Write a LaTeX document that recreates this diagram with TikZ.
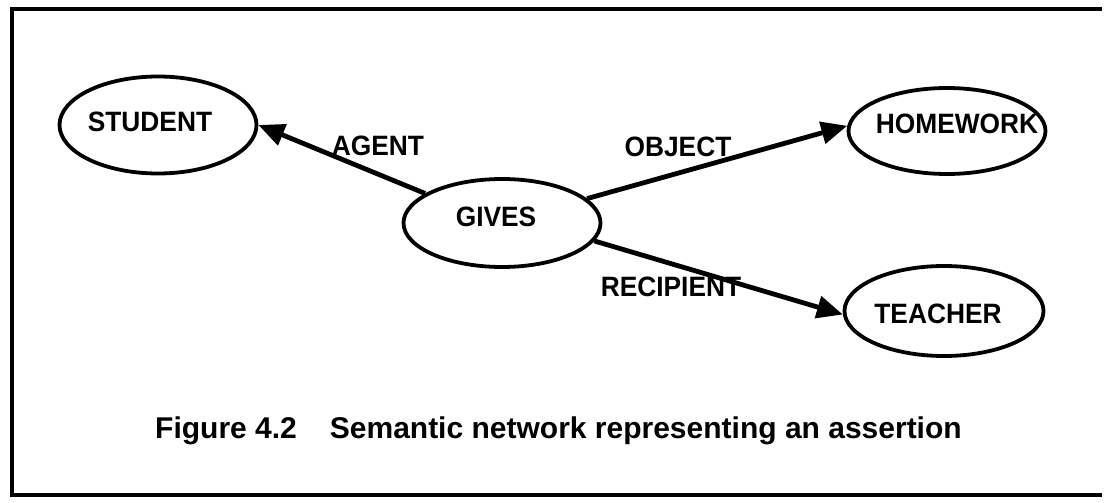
\documentclass[tikz,border=0pt]{standalone}
\usepackage{fontspec}
\setmainfont{Liberation Sans}
\newfontfamily\narrowsans[FakeStretch=0.94]{Liberation Sans}
\usetikzlibrary{shapes.geometric,arrows.meta}

\tikzset{
  concept/.style={ellipse, draw, line width=3.8pt, inner sep=0pt,
                  minimum width=197pt, minimum height=94pt},
  wordtext/.style={font=\narrowsans\bfseries\fontsize{28}{28}\selectfont, inner sep=0pt},
  relation/.style={line width=4.8pt, -{Triangle[length=26pt,width=22pt]}},
  framerule/.style={line width=3.5pt}
}

\begin{document}
\begin{tikzpicture}[x=1pt,y=-1pt]
  \fill[white] (0,0) rectangle (1104,503);
  \useasboundingbox (0,0) rectangle (1104,503);

  % open frame: top, left and bottom rules, running to the right edge
  \coordinate (ftr) at (1102,9);
  \coordinate (ftl) at (12,9);
  \coordinate (fbl) at (12,495);
  \coordinate (fbr) at (1102,495);
  \draw[framerule] (ftr) -- (ftl) -- (fbl) -- (fbr);

  % concepts
  \node[concept, minimum height=97pt,
        label={[wordtext, xshift=-8pt, yshift=3pt]center:STUDENT}] (student) at (158,125) {};
  \node[concept, minimum height=88pt,
        label={[wordtext, xshift=-6pt, yshift=6pt]center:GIVES}] (gives) at (502,223) {};
  \node[concept, minimum height=86pt,
        label={[wordtext, xshift=10pt, yshift=7pt]center:HOMEWORK}] (homework) at (947,131) {};
  \node[concept, minimum width=199pt, minimum height=90pt,
        label={[wordtext, xshift=-6pt, yshift=-3pt]center:TEACHER}] (teacher) at (944,311) {};

  % relations
  \draw[relation] (gives.159) -- (student.east);
  \draw[relation] (gives.16) -- (homework.177);
  \draw[relation] (gives.349) -- (teacher.182);

  % relation names
  \node[wordtext] (agent) at (378,146) {AGENT};
  \node[wordtext] (object) at (678,147) {OBJECT};
  \node[wordtext] (recipient) at (671,287) {RECIPIENT};

  % caption
  \node[anchor=base west, inner sep=0pt,
        font=\bfseries\fontsize{30}{30}\selectfont] (caption) at (155,438)
        {Figure 4.2\hspace{33pt}Semantic network representing an assertion};
\end{tikzpicture}
\end{document}
